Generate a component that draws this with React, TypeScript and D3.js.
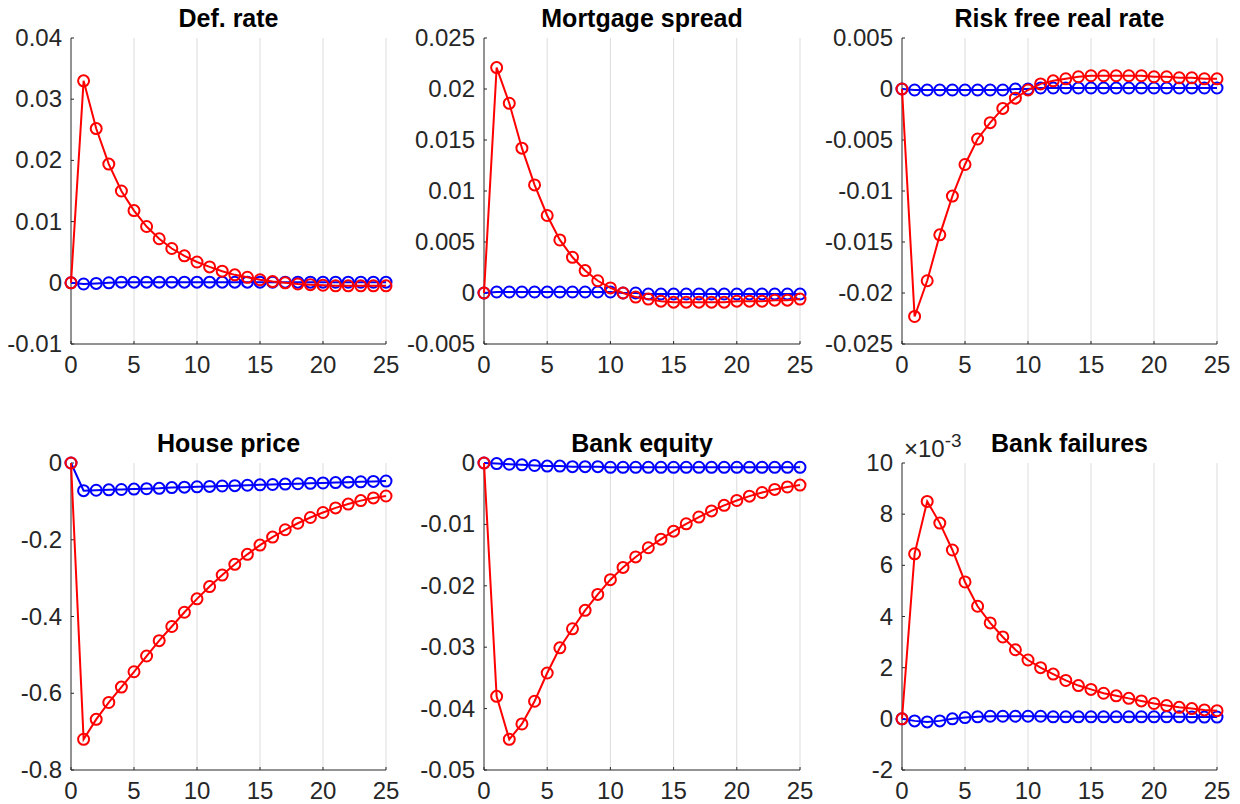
import * as d3 from "d3";
import React from "react";

const periods = d3.range(0, 26);

const defRateRed = [0, 0.033, 0.0252, 0.0194, 0.015, 0.0118, 0.0092, 0.0072, 0.0056, 0.0044, 0.0034, 0.0026, 0.0019, 0.0013, 0.0009, 0.0005, 0.0002, 0, -0.0002, -0.0003, -0.0004, -0.0005, -0.0005, -0.0005, -0.0005, -0.0005];
const defRateBlue = [0, -0.0002, -0.0001, 0, 0.0001, 0.0001, 0.0001, 0.0001, 0.0001, 0.0001, 0.0001, 0.0001, 0.0001, 0.0001, 0.0001, 0.0001, 0.0001, 0.0001, 0.0001, 0.0001, 0.0001, 0.0001, 0.0001, 0.0001, 0.0001, 0.0001];

const mortRed = [0, 0.0221, 0.0186, 0.0142, 0.0106, 0.0076, 0.0052, 0.0035, 0.0022, 0.0012, 0.0005, 0, -0.0004, -0.0006, -0.0008, -0.0009, -0.0009, -0.0009, -0.0009, -0.0009, -0.0008, -0.0008, -0.0008, -0.0007, -0.0007, -0.0006];
const mortBlue = [0, 0.0001, 0.0001, 0.0001, 0.0001, 0.0001, 0.0001, 0.0001, 0.0001, 0.0001, 0.0001, 0, 0, -0.0001, -0.0001, -0.0001, -0.0001, -0.0001, -0.0001, -0.0001, -0.0001, -0.0001, -0.0001, -0.0001, -0.0001, -0.0001];

const rfRed = [0, -0.0223, -0.0188, -0.0143, -0.0105, -0.0074, -0.0049, -0.0033, -0.0019, -0.0009, -0.0001, 0.0005, 0.0008, 0.001, 0.0012, 0.0013, 0.0013, 0.0013, 0.0013, 0.0013, 0.0012, 0.0012, 0.0011, 0.0011, 0.001, 0.001];
const rfBlue = [0, -0.0001, -0.0001, -0.0001, -0.0001, -0.0001, -0.0001, -0.0001, -0.0001, 0, 0, 0.0001, 0.0001, 0.0001, 0.0001, 0.0001, 0.0001, 0.0001, 0.0001, 0.0001, 0.0001, 0.0001, 0.0001, 0.0001, 0.0001, 0.0001];

const houseRed = [0, -0.72, -0.668, -0.624, -0.584, -0.544, -0.503, -0.463, -0.426, -0.389, -0.354, -0.322, -0.292, -0.264, -0.238, -0.214, -0.193, -0.174, -0.157, -0.142, -0.129, -0.117, -0.107, -0.098, -0.091, -0.086];
const houseBlue = [0, -0.072, -0.071, -0.07, -0.069, -0.068, -0.067, -0.066, -0.064, -0.063, -0.062, -0.061, -0.06, -0.059, -0.058, -0.057, -0.056, -0.055, -0.054, -0.053, -0.052, -0.051, -0.05, -0.049, -0.048, -0.047];

const equityRed = [0, -0.038, -0.045, -0.0425, -0.0388, -0.0342, -0.0301, -0.027, -0.024, -0.0214, -0.019, -0.017, -0.0153, -0.0138, -0.0124, -0.0111, -0.0099, -0.0088, -0.0078, -0.0069, -0.0061, -0.0054, -0.0048, -0.0043, -0.0039, -0.0036];
const equityBlue = [0, -0.0001, -0.0002, -0.0003, -0.0004, -0.0005, -0.0005, -0.0006, -0.0006, -0.0006, -0.0007, -0.0007, -0.0007, -0.0007, -0.0007, -0.0007, -0.0007, -0.0007, -0.0007, -0.0007, -0.0007, -0.0007, -0.0007, -0.0007, -0.0007, -0.0007];

// in units of 1e-3
const failRed = [0, 6.45, 8.5, 7.65, 6.6, 5.35, 4.4, 3.75, 3.2, 2.7, 2.3, 2.0, 1.75, 1.5, 1.3, 1.15, 1.0, 0.9, 0.8, 0.7, 0.6, 0.52, 0.45, 0.4, 0.35, 0.32];
const failBlue = [0, -0.08, -0.12, -0.08, 0, 0.05, 0.08, 0.1, 0.1, 0.1, 0.1, 0.1, 0.08, 0.08, 0.08, 0.08, 0.08, 0.08, 0.08, 0.08, 0.08, 0.08, 0.08, 0.07, 0.07, 0.07];

const xTicks = [0, 5, 10, 15, 20, 25];

type Panel = {
  title: string;
  red: number[];
  blue: number[];
  yTicks: number[];
  yLabels: string[];
  exponent?: boolean;
};

const panels: Panel[] = [
  { title: "Def. rate", red: defRateRed, blue: defRateBlue, yTicks: [-0.01, 0, 0.01, 0.02, 0.03, 0.04], yLabels: ["-0.01", "0", "0.01", "0.02", "0.03", "0.04"] },
  { title: "Mortgage spread", red: mortRed, blue: mortBlue, yTicks: [-0.005, 0, 0.005, 0.01, 0.015, 0.02, 0.025], yLabels: ["-0.005", "0", "0.005", "0.01", "0.015", "0.02", "0.025"] },
  { title: "Risk free real rate", red: rfRed, blue: rfBlue, yTicks: [-0.025, -0.02, -0.015, -0.01, -0.005, 0, 0.005], yLabels: ["-0.025", "-0.02", "-0.015", "-0.01", "-0.005", "0", "0.005"] },
  { title: "House price", red: houseRed, blue: houseBlue, yTicks: [-0.8, -0.6, -0.4, -0.2, 0], yLabels: ["-0.8", "-0.6", "-0.4", "-0.2", "0"] },
  { title: "Bank equity", red: equityRed, blue: equityBlue, yTicks: [-0.05, -0.04, -0.03, -0.02, -0.01, 0], yLabels: ["-0.05", "-0.04", "-0.03", "-0.02", "-0.01", "0"] },
  { title: "Bank failures", red: failRed, blue: failBlue, yTicks: [-2, 0, 2, 4, 6, 8, 10], yLabels: ["-2", "0", "2", "4", "6", "8", "10"], exponent: true },
];

const colX = [[71, 386], [484, 800], [902, 1217]];
const rowY = [[38, 344], [463, 770]];
const font = "'Liberation Sans', Arial, sans-serif";
const ink = "#262626";

const Plot: React.FC<{ p: Panel; i: number }> = ({ p, i }) => {
  const [x0, x1] = colX[i % 3];
  const [y0, y1] = rowY[Math.floor(i / 3)];
  const x = d3.scaleLinear().domain([0, 25]).range([x0, x1]);
  const y = d3.scaleLinear().domain([p.yTicks[0], p.yTicks[p.yTicks.length - 1]]).range([y1, y0]);
  const path = d3.line<number>().x((_, j) => x(periods[j])).y((d) => y(d));
  const series = [
    { data: p.blue, color: "#0000ff" },
    { data: p.red, color: "#ff0000" },
  ];
  return (
    <g>
      {xTicks.slice(1).map((t) => (
        <line key={t} x1={x(t)} x2={x(t)} y1={y0} y2={y1} stroke="#dcdcdc" strokeWidth={1} />
      ))}
      <line x1={x0} x2={x0} y1={y0} y2={y1} stroke={ink} />
      <line x1={x0} x2={x1} y1={y1} y2={y1} stroke={ink} />
      {xTicks.map((t) => (
        <g key={t}>
          <line x1={x(t)} x2={x(t)} y1={y1} y2={y1 - 3} stroke={ink} />
          <text x={x(t)} y={y1 + 29} textAnchor="middle" fontSize={24} fill={ink} fontFamily={font}>{t}</text>
        </g>
      ))}
      {p.yTicks.map((t, j) => (
        <g key={t}>
          <line x1={x0} x2={x0 + 3} y1={y(t)} y2={y(t)} stroke={ink} />
          <text x={x0 - 9} y={y(t) + 8} textAnchor="end" fontSize={24} fill={ink} fontFamily={font}>{p.yLabels[j]}</text>
        </g>
      ))}
      {p.exponent && (
        <text x={x0 + 2} y={y0 - 6} fontSize={24} fill={ink} fontFamily={font}>
          ×10<tspan dy={-10} fontSize={19}>-3</tspan>
        </text>
      )}
      <text x={(x0 + x1) / 2 + (p.exponent ? 10 : 0)} y={y0 - 11} textAnchor="middle" fontSize={25} fontWeight="bold" fill="#000" fontFamily={font}>{p.title}</text>
      {series.map((s, k) => (
        <g key={k}>
          <path d={path(s.data)!} fill="none" stroke={s.color} strokeWidth={2} />
          {s.data.map((v, j) => (
            <circle key={j} cx={x(periods[j])} cy={y(v)} r={5.5} fill="none" stroke={s.color} strokeWidth={2} />
          ))}
        </g>
      ))}
    </g>
  );
};

export default function App() {
  return (
    <svg width={1240} height={804} style={{ position: "absolute", left: 0, top: 0, background: "#fff" }}>
      {panels.map((p, i) => (
        <Plot key={p.title} p={p} i={i} />
      ))}
    </svg>
  );
}
